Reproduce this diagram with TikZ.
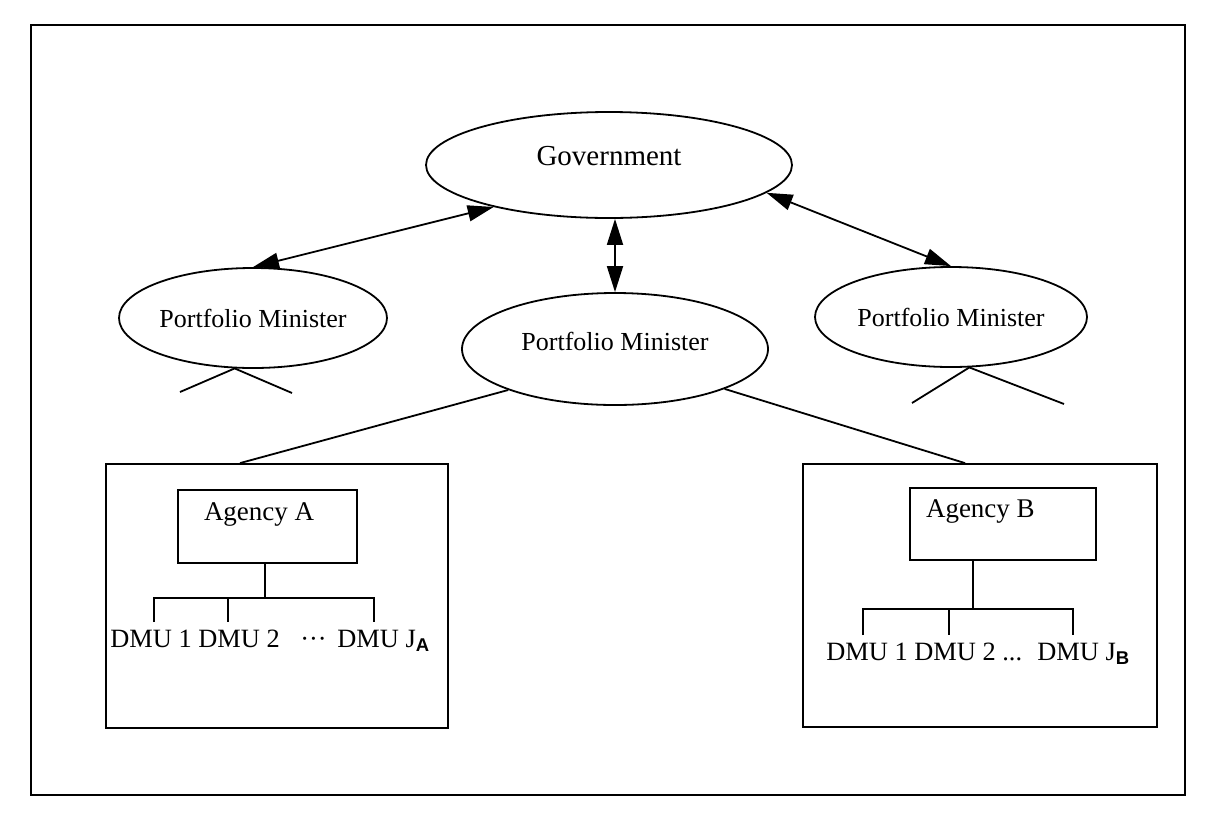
\documentclass[tikz,border=0pt]{standalone}
\usepackage{fontspec}
\setmainfont{Liberation Serif}
\newfontfamily\subfont{Liberation Sans}
\usetikzlibrary{shapes.geometric,arrows.meta,calc}
\tikzset{
 oval/.style={draw,ellipse,line width=0.9pt,inner sep=0pt,font=\fontsize{13}{15}\selectfont},
 bigbox/.style={draw,rectangle,line width=0.9pt,inner sep=0pt},
 agbox/.style={draw,rectangle,line width=0.9pt,font=\fontsize{13.5}{16}\selectfont,align=flush left,text height=9.5pt,text depth=16pt,inner ysep=0pt},
 link/.style={line width=0.9pt},
 biarrow/.style={line width=0.9pt,>={Triangle[length=13pt,width=8pt]},<->},
 tree/.style={line width=0.8pt},
 dmu/.style={anchor=base west,inner sep=0pt,font=\fontsize{13.2}{16}\selectfont},
}
\begin{document}
\begin{tikzpicture}[x=0.5pt,y=-0.5pt]
\useasboundingbox (0,0) rectangle (1220,820);
\draw[line width=0.8pt] (31,25) rectangle (1185,795);

% ellipses
\node[oval,font=\fontsize{14.5}{17}\selectfont,minimum width=183pt,minimum height=53pt,text height=9pt,text depth=9pt] (gov) at (609,165) {Government};
\node[oval,minimum width=134pt,minimum height=50pt] (lpm) at (253,318) {Portfolio Minister};
\node[oval,minimum width=153pt,minimum height=56pt,text height=9pt,text depth=7.4pt] (mpm) at (615,349) {Portfolio Minister};
\node[oval,minimum width=136pt,minimum height=50pt] (rpm) at (951,317) {Portfolio Minister};

% arrows
\draw[biarrow] (gov.200) -- (lpm.north);
\draw[biarrow] (gov.south -| mpm.north) -- (mpm.north);
\draw[biarrow] (gov.350) -- (rpm.north);

% ticks under side ministers
\coordinate (lt1) at (180,392);
\coordinate (lt2) at (292,393);
\coordinate (rt1) at (912,403);
\coordinate (rt2) at (1064,404);
\draw[link] (lt1) -- (lpm.250) -- (lt2);
\draw[link] (rt1) -- (rpm.290) -- (rt2);

% agency boxes
\node[bigbox,minimum width=171pt,minimum height=132pt] (boxA) at (277,596) {};
\node[bigbox,minimum width=177pt,minimum height=131.5pt] (boxB) at (980,595.5) {};
\draw[link] (mpm.201) -- ($(boxA.north)+(-37,0)$);
\draw[link] (mpm.340) -- ($(boxB.north)+(-15,0)$);

\node[agbox,minimum width=89.5pt,minimum height=36.5pt,inner xsep=13pt,text width=63.5pt] (agA) at (267.5,526.5) {Agency A};
\node[agbox,minimum width=93pt,minimum height=36pt,inner xsep=8pt,text width=77pt] (agB) at (1003,524) {Agency B};

% tree A
\coordinate (jA) at (265,598);
\coordinate (a1t) at (154,598);
\coordinate (a2t) at (228,598);
\coordinate (a3t) at (374,598);
\coordinate (a1b) at (154,622);
\coordinate (a2b) at (228,622);
\coordinate (a3b) at (374,622);
\draw[tree] (agA.south -| jA) -- (jA);
\draw[tree] (a1b) -- (a1t) -- (a3t) -- (a3b);
\draw[tree] (a2t) -- (a2b);
\node[dmu] (da1) at (110,647) {DMU 1 DMU 2};
\node[dmu] (da3) at (300,647) {···};
\node[dmu] (da4) at (337,647) {DMU J\textsubscript{\subfont\bfseries A}};

% tree B
\coordinate (jB) at (973,609);
\coordinate (b1t) at (863,609);
\coordinate (b2t) at (949,609);
\coordinate (b3t) at (1073,609);
\coordinate (b1b) at (863,635);
\coordinate (b2b) at (949,635);
\coordinate (b3b) at (1073,635);
\draw[tree] (agB.south -| jB) -- (jB);
\draw[tree] (b1b) -- (b1t) -- (b3t) -- (b3b);
\draw[tree] (b2t) -- (b2b);
\node[dmu] (db1) at (826,660) {DMU 1 DMU 2 ...};
\node[dmu] (db4) at (1037,660) {DMU J\textsubscript{\subfont\bfseries B}};
\end{tikzpicture}
\end{document}
